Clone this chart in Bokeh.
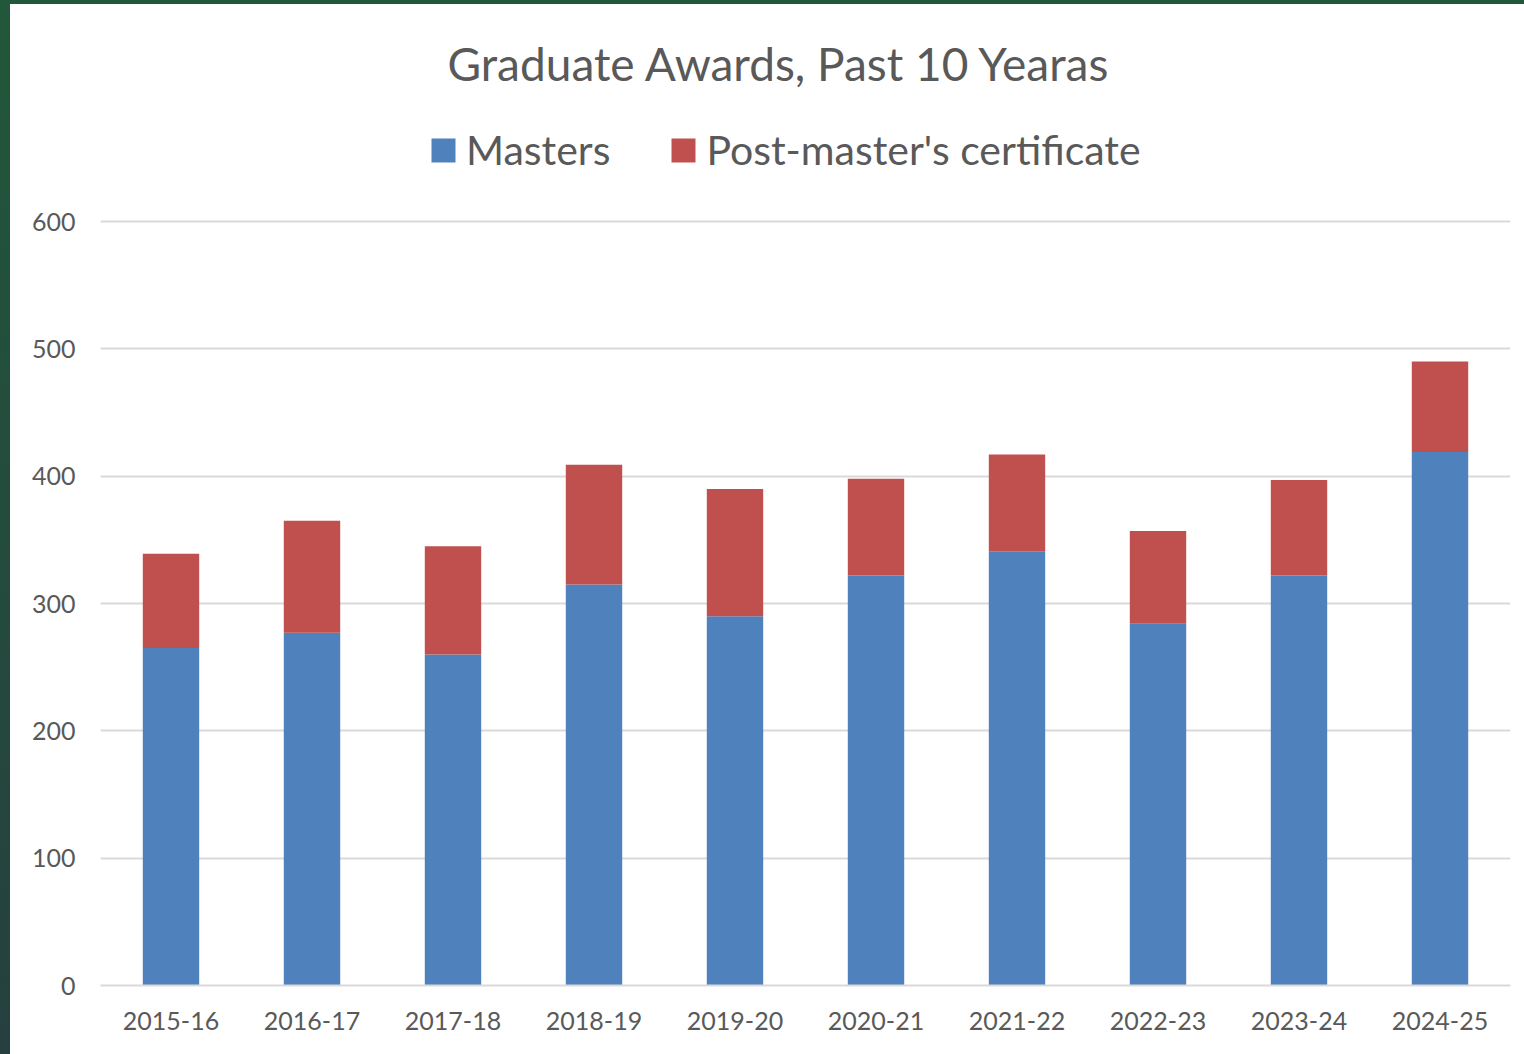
from bokeh.plotting import figure
from bokeh.models import Legend, FixedTicker, Range1d, FactorRange, ColumnDataSource
from bokeh.embed import file_html
from bokeh.resources import INLINE

years = ["2015-16", "2016-17", "2017-18", "2018-19", "2019-20",
         "2020-21", "2021-22", "2022-23", "2023-24", "2024-25"]
masters = [265, 277, 260, 315, 290, 322, 341, 284, 322, 419]
post_masters = [74, 88, 85, 94, 100, 76, 76, 73, 75, 71]
y_ticks = [0, 100, 200, 300, 400, 500, 600]

BLUE = "#4F81BD"
RED = "#C0504D"
TEXT = "#595959"
GRID = "#D9D9D9"
FONT = "Lato"

# layout (screen pixels): frame top/bottom and where the 600 gridline lies
FRAME_TOP, FRAME_BOTTOM, GRID600 = 97, 985, 221
y_end = y_ticks[-1] * (FRAME_BOTTOM - FRAME_TOP) / (FRAME_BOTTOM - GRID600)

source = ColumnDataSource(dict(years=years, masters=masters, post=post_masters))

p = figure(x_range=FactorRange(*years), y_range=Range1d(0, y_end),
           width=1514, height=1050, output_backend="svg", toolbar_location=None,
           title="Graduate Awards, Past 10 Yearas",
           min_border_left=90, min_border_right=14, min_border_top=FRAME_TOP - 4,
           min_border_bottom=69)

rs = p.vbar_stack(["masters", "post"], x="years", width=0.4, color=[BLUE, RED],
                  line_color=None, source=source)

legend = Legend(items=[("Masters", [rs[0]]), ("Post-master's certificate", [rs[1]])],
                orientation="horizontal", location=(328, 811),
                glyph_width=30, glyph_height=30, label_standoff=8, spacing=58,
                label_text_font=FONT, label_text_font_size="41px", label_text_color=TEXT,
                border_line_color=None, background_fill_alpha=0)
p.add_layout(legend, "center")

p.title.align = "left"
p.title.offset = 347
p.title.standoff = 14
p.title.text_font = FONT
p.title.text_font_size = "46px"
p.title.text_font_style = "normal"
p.title.text_color = TEXT

p.outline_line_color = None
p.xgrid.grid_line_color = None
p.ygrid.grid_line_color = GRID
p.ygrid.grid_line_width = 2
p.yaxis.ticker = FixedTicker(ticks=y_ticks)
p.yaxis.axis_line_color = None
p.yaxis.major_tick_line_color = None
p.yaxis.minor_tick_line_color = None
p.yaxis.major_label_text_font = FONT
p.yaxis.major_label_text_font_size = "25px"
p.yaxis.major_label_text_color = TEXT
p.yaxis.major_label_standoff = 19

p.xaxis.axis_line_color = GRID
p.xaxis.axis_line_width = 2
p.xaxis.major_tick_line_color = None
p.xaxis.minor_tick_line_color = None
p.xaxis.major_label_text_font = FONT
p.xaxis.major_label_text_font_size = "25px"
p.xaxis.major_label_text_color = TEXT
p.xaxis.major_label_standoff = 20

template = """
{% block postamble %}
<style>
  html { margin: 0; overflow: hidden; padding: 4px 0 0 10px;
         background: linear-gradient(#21573a, #26403f); }
  body { margin: 0; padding: 0; background: #ffffff; }
</style>
{% endblock %}
"""

open("out.html", "w").write(file_html(p, INLINE, template=template))
